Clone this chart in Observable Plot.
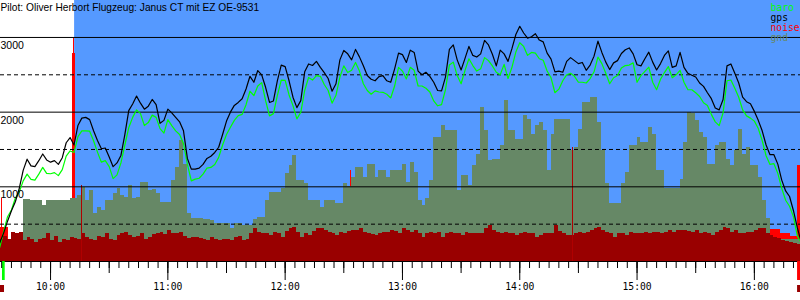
<!DOCTYPE html>
<html><head><meta charset="utf-8">
<script src="https://cdn.jsdelivr.net/npm/d3@7"></script>
<script src="https://cdn.jsdelivr.net/npm/@observablehq/plot@0.6"></script>
<style>
html,body{margin:0;padding:0;background:#fff}
#chart{width:800px;height:300px;overflow:hidden}
</style>
</head><body><div id="chart"></div>
<script>
const title = "Pilot: Oliver Herbort Flugzeug: Janus CT mit EZ OE-9531";
const seriesNames = ["baro", "gps", "noise", "gnd"];
const seriesColors = ["#00ff00", "#000000", "#ff0000", "#668866"];
const noiseFloorColor = "#990000";
const spikeColor = "#b00000";
const skyColor = "#5599ff";

// log sampling
const startTime = "09:34";
const stepMinutes = 2;
const domainStart = "09:34:24";
const domainEnd = "16:23:36";
const thermalStart = "10:12:18";

const gps = [
250,380,540,680,800,980,1220,1370,1280,1270,
1350,1440,1360,1330,1350,1300,1390,1590,1660,1560,
1820,1920,1930,1900,1750,1620,1510,1520,1400,1270,
1320,1420,1700,2020,2110,2215,2120,2040,2080,2170,
2100,1850,1890,2040,1990,1930,1870,1750,1380,1237,
1237,1250,1300,1380,1410,1460,1530,1700,1880,2000,
2090,2130,2180,2310,2480,2400,2557,2500,2333,2130,
2150,2420,2630,2610,2420,2200,2060,2154,2540,2645,
2625,2680,2600,2530,2450,2280,2380,2700,2826,2781,
2700,2840,2740,2620,2490,2440,2420,2475,2490,2420,
2400,2580,2790,2770,2665,2830,2800,2550,2500,2534,
2480,2400,2290,2285,2470,2840,2900,2700,2565,2720,
2880,2760,2738,2780,2960,2900,2775,2620,2830,2780,
2680,2850,3040,3150,3060,2990,3010,3050,2965,2941,
2790,2710,2540,2550,2534,2680,2730,2690,2650,2665,
2560,2630,2750,2950,2800,2670,2570,2660,2690,2785,
2835,2860,2780,2635,2620,2715,2803,2670,2565,2650,
2760,2820,2600,2620,2800,2600,2520,2495,2470,2390,
2345,2260,2180,2055,2030,2170,2620,2645,2520,2390,
2200,2140,2112,2010,1890,1750,1560,1430,1430,1304,
1090,945,870,680,450,260];

const baro = [
190,400,600,690,850,930,1080,1170,1100,1090,
1170,1260,1180,1175,1190,1150,1230,1410,1480,1460,
1670,1750,1750,1745,1617,1465,1330,1350,1270,1110,
1160,1320,1560,1790,1930,2030,1980,1820,1860,1960,
1930,1780,1720,1900,1820,1750,1700,1580,1300,1080,
1103,1115,1170,1250,1260,1300,1394,1560,1700,1797,
1890,1953,1970,2100,2280,2220,2350,2395,2154,1950,
1980,2220,2430,2425,2230,2087,1910,1998,2290,2465,
2430,2490,2480,2370,2290,2120,2225,2470,2620,2530,
2560,2665,2550,2380,2290,2240,2285,2270,2266,2240,
2190,2350,2600,2550,2445,2600,2560,2350,2350,2320,
2270,2150,2085,2100,2300,2630,2670,2490,2380,2560,
2715,2624,2550,2580,2730,2690,2620,2534,2500,2640,
2450,2600,2805,2930,2880,2760,2800,2790,2715,2695,
2550,2460,2260,2308,2420,2500,2520,2480,2400,2400,
2390,2450,2540,2738,2650,2520,2380,2460,2490,2590,
2624,2630,2660,2400,2490,2545,2602,2400,2300,2440,
2530,2610,2460,2500,2560,2400,2300,2300,2260,2210,
2125,2090,1970,1870,1820,1990,2420,2430,2320,2200,
2030,1950,1920,1880,1780,1620,1416,1300,1310,1180,
980,820,740,600,340,250];

const gnd = [
300,300,300,300,300,300,824,824,815,815,
815,748,815,820,820,815,815,815,840,840,
882,993,815,949,637,726,682,815,815,904,
971,882,860,1016,840,860,1060,1060,950,960,
904,793,793,793,1082,1261,1617,1300,637,580,
580,570,560,560,550,503,503,503,503,437,
503,503,481,481,481,560,593,593,815,927,
927,927,971,1172,1283,1417,1082,1082,1038,815,
815,815,726,815,815,815,771,771,1038,1000,
1130,1261,1261,1127,1305,1305,1127,1216,1216,1127,
1216,1216,1216,1305,1060,1327,1194,815,748,837,
1082,1661,1661,1817,1750,1750,1750,949,1150,1150,
1016,1283,1439,2062,1750,1350,1372,1372,1550,2151,
1750,1750,1639,1639,1951,1900,1706,1817,1862,1750,
1216,1706,1906,1906,1906,1906,1483,1528,1773,2129,
2129,2190,2190,1862,1483,1038,771,771,771,1038,
1194,1550,1550,1661,1594,1594,1795,1706,1216,1216,
971,971,971,971,1100,1594,1996,1980,1884,1728,
1661,1305,1305,1550,1594,1594,1372,1283,1483,1773,
1439,1528,1283,1283,1127,815,570,300,300,300,
300,300,300,300,300,300];

const noise = [
300,330,300,390,370,390,280,320,300,260,
290,310,370,280,330,260,300,280,325,310,
300,370,325,300,280,330,325,370,300,281,
348,370,392,350,325,340,370,290,325,360,
370,392,360,414,370,380,392,330,310,325,
320,303,300,280,325,300,281,300,290,281,
325,340,281,300,370,437,392,380,370,348,
392,370,325,400,437,459,392,325,370,348,
400,437,437,414,392,370,348,392,370,400,
414,414,437,392,370,360,348,370,392,392,
414,400,370,437,414,392,414,370,325,370,
392,370,392,325,370,392,370,370,348,392,
370,370,370,370,437,481,420,392,370,392,
370,370,348,370,392,370,370,325,348,370,
370,370,481,400,370,348,348,370,392,370,
392,414,437,459,414,392,370,325,370,370,
348,392,370,380,370,392,370,392,392,370,
392,414,392,414,414,414,400,392,414,370,
392,370,348,392,414,459,437,392,414,370,
370,392,392,414,437,437,370,348,325,303,
281,270,258,240,225,214];

// loud noise bursts (engine / approach)
const burstStart = ["09:34:24","09:35:05","10:11:15","10:11:36","12:33:27","16:08:18","16:13:25","16:18:30","16:22:06"];
const burstEnd   = ["09:38:30","09:35:35","10:12:48","10:12:06","12:33:58","16:13:25","16:18:30","16:22:06","16:23:36"];
const burstValue = [450, 840, 2786, 2990, 1216, 430, 380, 330, 1283];

const spikeStart = ["10:15:54","14:27:00"];
const spikeEnd   = ["10:16:24","14:27:30"];
const spikeValue = [1016, 1520];

const takeoffTime = ["09:35:25","09:36:48"];
const landingTime = ["16:22:06","16:23:36"];

const hourLabels = ["10:00","11:00","12:00","13:00","14:00","15:00","16:00"];
const gridSolid = [1000, 2000, 3000];
const gridDashed = [500, 1500, 2500];
const yMax = 3495;

// ---------------------------------------------------------------
const toMin = s => { const [h, m, sec = 0] = s.split(":").map(Number); return h * 60 + m + sec / 60; };
const t0 = toMin(startTime);
const data = gps.map((g, i) => ({t: t0 + i * stepMinutes, gps: g, baro: baro[i], gnd: gnd[i], noise: noise[i]}));
const bursts = burstStart.map((s, i) => ({x1: toMin(s), x2: toMin(burstEnd[i]), v: burstValue[i]}));
const spikes = spikeStart.map((s, i) => ({x1: toMin(s), x2: toMin(spikeEnd[i]), v: spikeValue[i]}));
const x0 = toMin(domainStart), x1 = toMin(domainEnd);
const hourTicks = hourLabels.map(toMin);
const halfTicks = d3.range(Math.ceil(x0 / 30) * 30, x1, 30);
const minorTicks = d3.range(Math.ceil(x0 / 5) * 5, x1, 5);
const fmt = m => hourLabels[hourTicks.indexOf(m)] ?? "";

const H = 300, MB = 39;
const perPx = yMax / (H - MB);
const mono = "'DejaVu Sans Mono', monospace";
const sans = "'Liberation Sans', Arial, sans-serif";

const chart = Plot.plot({
  width: 800, height: H,
  marginTop: 0, marginRight: 0, marginBottom: MB, marginLeft: 0,
  style: {background: "#fff", overflow: "visible"},
  x: {type: "linear", domain: [x0, x1]},
  y: {domain: [0, yMax], axis: null},
  marks: [
    Plot.rect([{a: toMin(thermalStart), b: x1}], {x1: "a", x2: "b", fill: skyColor}),
    Plot.rect(bursts, {x1: "x1", x2: "x2", y1: 0, y2: "v", fill: seriesColors[2], shapeRendering: "crispEdges"}),
    Plot.areaY(data, {x: "t", y: "gnd", fill: seriesColors[3], curve: "step-after", shapeRendering: "crispEdges"}),
    Plot.areaY(data, {x: "t", y: "noise", fill: noiseFloorColor, curve: "step-after", shapeRendering: "crispEdges"}),
    Plot.rect(spikes, {x1: "x1", x2: "x2", y1: 0, y2: "v", fill: spikeColor, shapeRendering: "crispEdges"}),
    Plot.ruleY(gridDashed, {stroke: "#000", strokeWidth: 1, strokeDasharray: "4,3"}),
    Plot.ruleY(gridSolid, {stroke: "#000", strokeWidth: 1}),
    Plot.line(data, {x: "t", y: "baro", stroke: seriesColors[0], strokeWidth: 1.2}),
    Plot.line(data, {x: "t", y: "gps", stroke: seriesColors[1], strokeWidth: 1.2}),
    Plot.ruleY([0], {stroke: "#000", strokeWidth: 1}),
    // takeoff / landing markers below the axis
    Plot.rect([takeoffTime], {x1: d => toMin(d[0]), x2: d => toMin(d[1]), y1: 0, y2: -19 * perPx, fill: seriesColors[0]}),
    Plot.rect([landingTime], {x1: d => toMin(d[0]), x2: d => toMin(d[1]), y1: 0, y2: -19 * perPx, fill: seriesColors[2]}),
    Plot.rect([[domainStart, "09:36:27"], ["16:22:06", domainEnd]], {x1: d => toMin(d[0]), x2: d => toMin(d[1]), y1: -24 * perPx, y2: -31 * perPx, fill: noiseFloorColor}),
    Plot.axisX(minorTicks, {anchor: "bottom", tickSize: 7, tickFormat: () => "", stroke: "#000"}),
    Plot.axisX(halfTicks, {anchor: "bottom", tickSize: 12, tickFormat: () => "", stroke: "#000"}),
    Plot.axisX(hourTicks, {anchor: "bottom", tickSize: 19, tickPadding: 3, tickFormat: fmt, stroke: "#000",
      fill: "#000", fontFamily: mono, fontSize: 9.7}),
    Plot.text(gridSolid, {y: d => d, frameAnchor: "left", text: d => String(d), textAnchor: "start",
      lineAnchor: "bottom", dy: 11.5, fill: "#000", fontFamily: sans, fontSize: 10.5}),
    Plot.text([title], {frameAnchor: "top-left", text: d => d, textAnchor: "start", lineAnchor: "bottom",
      dy: 10, fill: "#000", fontFamily: sans, fontSize: 10.2}),
    ...seriesNames.map((n, i) => Plot.text([n], {frameAnchor: "top-right", text: d => d, textAnchor: "start",
      lineAnchor: "bottom", dx: -30, dy: 10.5 + 10 * i, fill: seriesColors[i], fontFamily: mono, fontSize: 9.7}))
  ]
});
document.getElementById("chart").appendChild(chart);
</script>
</body></html>
